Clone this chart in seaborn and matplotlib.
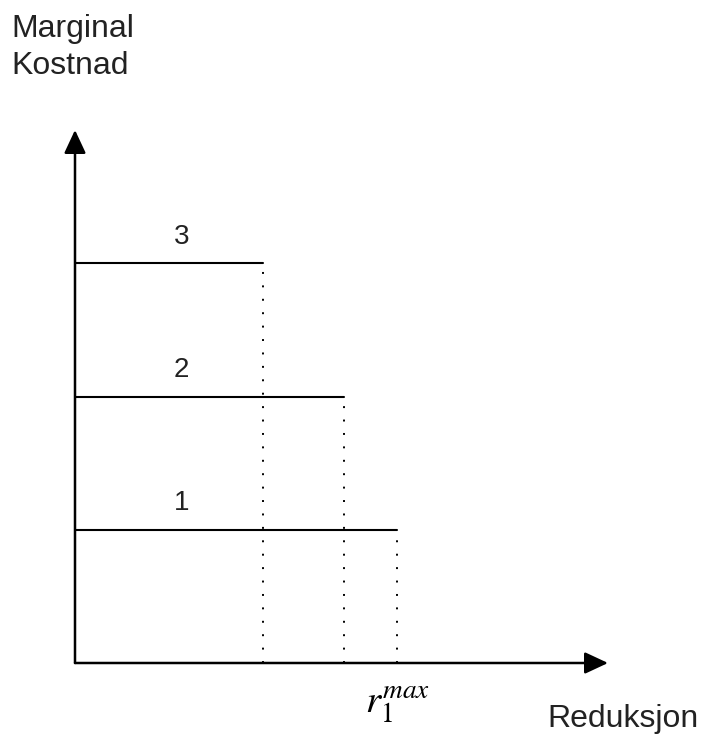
import pandas as pd
import seaborn as sns
import matplotlib.pyplot as plt

# marginal cost steps (level label, cost, max reduction)
levels = ["1", "2", "3"]
costs = [1.0, 2.0, 3.0]
r_max = [2.42, 2.02, 1.41]
axis_max = 4.0

sns.set_style("white")
plt.rcParams["font.family"] = ["Liberation Sans", "DejaVu Sans"]
plt.rcParams["mathtext.fontset"] = "stix"

rows = []
for lab, c, r in zip(levels, costs, r_max):
    rows.append({"level": lab, "x": 0.0, "y": c, "vx": r, "vy": c})
    rows.append({"level": lab, "x": r, "y": c, "vx": r, "vy": 0.0})
df = pd.DataFrame(rows)

fig = plt.figure(figsize=(7.07, 7.40), dpi=100)
ax = fig.add_axes([75 / 707, 77 / 740, 533 / 707, 533 / 740])

# horizontal cost steps
sns.lineplot(data=df, x="x", y="y", units="level", estimator=None,
             color="black", linewidth=1.5, ax=ax, legend=False)
# dotted drop lines
sns.lineplot(data=df, x="vx", y="vy", units="level", estimator=None,
             color="black", linewidth=1.4, linestyle=(0, (1, 5.9)),
             ax=ax, legend=False)

# axes with arrows
arrow = dict(arrowstyle="-|>,head_length=0.75,head_width=0.35", color="black",
             lw=1.8, shrinkA=0, shrinkB=0, mutation_scale=19)
ax.annotate("", xy=(axis_max, 0), xytext=(0, 0), arrowprops=arrow,
            annotation_clip=False)
ax.annotate("", xy=(0, axis_max), xytext=(0, 0), arrowprops=arrow,
            annotation_clip=False)

for lab, c in zip(levels, costs):
    ax.text(0.8, c + 0.2, lab, ha="center", va="center", fontsize=20,
            color="#222222")

ax.text(r_max[0], -0.31, r"$r_1^{max}$", ha="center", va="center",
        fontsize=28, color="black", clip_on=False)

ax.set_xlim(0, axis_max)
ax.set_ylim(0, axis_max)
ax.set_xlabel("")
ax.set_ylabel("")
ax.set_xticks([])
ax.set_yticks([])
for s in ax.spines.values():
    s.set_visible(False)

fig.text(11 / 707, 1 - 14 / 740, "Marginal\nKostnad", ha="left", va="top",
         fontsize=23, color="#222222", linespacing=1.3)
fig.text(547 / 707, 1 - 719 / 740, "Reduksjon", ha="left", va="center",
         fontsize=23, color="#222222")

fig.savefig("out.png", dpi=100)
